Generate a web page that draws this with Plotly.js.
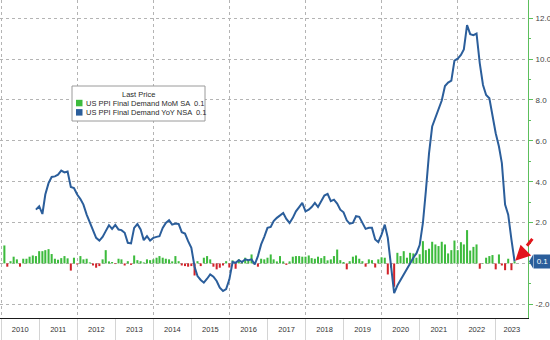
<!DOCTYPE html>
<html><head><meta charset="utf-8">
<script src="https://cdn.plot.ly/plotly-3.0.1.min.js"></script>
<style>html,body{margin:0;padding:0;background:#fff}#chart{width:550px;height:340px}</style>
</head><body><div id="chart"></div>
<script>
// ---- Data ----
const momName = 'US PPI Final Demand MoM SA';
const yoyName = 'US PPI Final Demand YoY NSA';
const legendTitle = 'Last Price';
const momLast = '0.1';
const yoyLast = '0.1';

// MoM SA (%), monthly from Jan 2010
const momStartYear = 2010, momStartMonth = 1;
const mom2010 = [0.88, -0.16, 0.11, 0.33, 0.2, -0.16, 0.23, 0.23, 0.33, 0.39, 0.36, 0.6];
const mom2011 = [0.6, 0.65, 0.7, 0.46, 0.23, 0.18, 0.26, 0.36, 0.25, -0.35, 0.28, -0.05];
const mom2012 = [0.36, 0.2, 0.23, 0.05, -0.1, -0.21, -0.13, 0.2, 0.65, 0.1, 0.07, -0.03];
const mom2013 = [0.23, 0.2, -0.1, 0.11, -0.07, 0.39, 0.16, 0.11, 0.05, 0.2, 0.16, 0.2];
const mom2014 = [0.28, 0.36, 0.28, 0.23, 0.2, 0.1, 0.36, 0.11, -0.1, -0.13, -0.16, -0.13];
const mom2015 = [-0.59, 0.11, -0.13, 0.28, 0.36, 0.2, -0.16, -0.29, -0.21, -0.1, 0.11, -0.2];
const mom2016 = [0.15, -0.26, 0.2, 0.1, 0.28, 0.15, 0.44, 0.05, -0.16, 0.23, 0.2, 0.28];
const mom2017 = [0.44, 0.2, 0.1, 0.36, 0.1, -0.07, 0.1, 0.33, 0.36, 0.36, 0.33, 0.33];
const mom2018 = [0.39, 0.26, 0.23, 0.33, 0.26, 0.36, 0.15, 0.2, 0.36, 0.68, 0.16, 0.07];
const mom2019 = [-0.29, 0.11, 0.33, 0.39, 0.23, 0.11, -0.16, 0.2, 0.16, -0.2, 0.2, 0.3];
const mom2020 = [0.28, -0.54, -0.2, -1.14, 0.52, 0.36, 0.6, 0.28, 0.52, 0.49, 0.28, 0.45];
const mom2021 = [1.09, 0.65, 0.72, 1.06, 0.93, 0.85, 1.06, 0.93, 0.49, 0.65, 1.12, 0.65];
const mom2022 = [1.04, 0.93, 1.63, 0.63, 0.81, 0.93, -0.26, 0.02, 0.28, 0.36, 0.41, -0.29];
const mom2023 = [0.44, -0.1, -0.33, 0.23, -0.33, 0.1];

// YoY NSA (%), monthly from Nov 2010
const yoyStartYear = 2010, yoyStartMonth = 11;
const yoy2010 = [2.63, 2.8];
const yoy2011 = [2.42, 3.37, 3.93, 4.23, 4.26, 4.34, 4.54, 4.45, 4.5, 3.74, 3.69, 3.37];
const yoy2012 = [3.15, 2.88, 2.39, 1.98, 1.58, 1.25, 1.12, 1.3, 1.58, 1.87, 1.69, 1.89];
const yoy2013 = [1.66, 1.63, 1.5, 1.01, 0.98, 1.74, 1.93, 1.66, 1.14, 1.33, 1.12, 1.25];
const yoy2014 = [1.3, 1.33, 1.74, 1.98, 2.11, 1.9, 1.95, 1.93, 1.53, 1.46, 1.09, 0.76];
const yoy2015 = [-0.16, -0.62, -0.81, -0.94, -0.75, -0.54, -0.65, -0.86, -1.19, -1.35, -1.25, -0.78];
const yoy2016 = [0.07, 0.03, 0.16, 0.07, 0.2, 0.16, 0.2, -0.05, 0.36, 0.93, 1.3, 1.74];
const yoy2017 = [1.79, 2.07, 2.23, 2.34, 2.47, 2.18, 1.98, 2.23, 2.55, 2.76, 2.96, 2.55];
const yoy2018 = [2.63, 2.76, 2.96, 2.76, 3.04, 3.32, 3.4, 3.05, 3.12, 2.93, 2.63, 2.5];
const yoy2019 = [2.11, 1.95, 1.98, 2.31, 2.28, 1.98, 1.69, 1.74, 1.74, 1.17, 1.04, 1.41];
const yoy2020 = [1.9, 1.25, 0.0, -1.45, -1.08, -0.8, -0.54, -0.21, 0.0, 0.28, 0.49, 0.9];
const yoy2021 = [1.98, 3.53, 5.4, 6.7, 7.1, 7.5, 7.97, 8.68, 8.85, 8.94, 9.92, 10.02];
const yoy2022 = [10.2, 10.47, 11.66, 11.22, 11.17, 11.25, 9.79, 8.73, 8.24, 8.08, 7.19, 6.37];
const yoy2023 = [5.72, 4.91, 2.88, 2.39, 1.17, 0.1];

// Axis labels
const yearLabels = ['2010','2011','2012','2013','2014','2015','2016','2017','2018','2019','2020','2021','2022','2023'];
const gridYears = ['2010','2012','2014','2016','2018','2020','2022'];
const yTickVals = [-2, 0, 2, 4, 6, 8, 10, 12];
const yTickText = ['-2.0', '', '2.0', '4.0', '6.0', '8.0', '10.0', '12.0'];
const yMinorVals = [-1, 1, 3, 5, 7, 9, 11];
const xStart = '2009-12-20';
const xEnd = '2023-11-06';

// ---- Build ----
const momVals = [].concat(mom2010, mom2011, mom2012, mom2013, mom2014, mom2015, mom2016, mom2017, mom2018, mom2019, mom2020, mom2021, mom2022, mom2023);
const yoyVals = [].concat(yoy2010, yoy2011, yoy2012, yoy2013, yoy2014, yoy2015, yoy2016, yoy2017, yoy2018, yoy2019, yoy2020, yoy2021, yoy2022, yoy2023);

function pad(n){ return (n < 10 ? '0' : '') + n; }
function monthEnds(y, m, n) {
  const out = [];
  for (let k = 0; k < n; k++) {
    const d = new Date(Date.UTC(y, m - 1 + k + 1, 0));
    out.push(d.getUTCFullYear() + '-' + pad(d.getUTCMonth() + 1) + '-' + pad(d.getUTCDate()));
  }
  return out;
}
const momDates = monthEnds(momStartYear, momStartMonth, momVals.length);
const yoyDates = monthEnds(yoyStartYear, yoyStartMonth, yoyVals.length);

const GREEN = '#3dbb3d', RED = '#d2232a', BLUE = '#2b5e9b', AXGREEN = '#5cbf5c';
const momColors = momVals.map(v => v >= 0 ? GREEN : RED);

const yearStarts = yearLabels.map(y => y + '-01-01');
const endMs = Date.parse(xEnd);
const yearMids = yearLabels.map(y => {
  const a = Date.parse(y + '-01-01');
  const b = Math.min(Date.parse((+y + 1) + '-01-01'), endMs);
  return new Date((a + b) / 2).toISOString().slice(0, 10);
});
const gridDates = gridYears.map(y => y + '-01-01');

const FONT = 'Liberation Sans, Arial, sans-serif';

const traces = [
  { type: 'bar', x: momDates, y: momVals, marker: { color: momColors, line: { width: 0 } },
    name: momName, xaxis: 'x', yaxis: 'y', hoverinfo: 'skip', showlegend: false },
  { type: 'scatter', mode: 'lines', x: yoyDates, y: yoyVals, line: { color: BLUE, width: 2 },
    name: yoyName, xaxis: 'x2', yaxis: 'y', hoverinfo: 'skip', showlegend: false, cliponaxis: true }
];

const lastDate = yoyDates[yoyDates.length - 1];
const lastVal = yoyVals[yoyVals.length - 1];

const PW = 528, PH = 318;
const px = v => v / PW, py = v => (PH - v) / PH;

const layout = {
  width: 550, height: 340,
  margin: { l: 0, r: 22, t: 0, b: 22, pad: 0 },
  paper_bgcolor: '#ffffff', plot_bgcolor: '#ffffff',
  font: { family: FONT, size: 8, color: '#333' },
  bargap: 0.3,
  showlegend: false,
  xaxis: {
    type: 'date', range: [xStart, xEnd], tickmode: 'array', tickvals: yearMids, ticktext: yearLabels,
    ticks: '', showgrid: false, zeroline: false, showline: true, linecolor: '#1a1a1a', linewidth: 1,
    tickfont: { family: FONT, size: 7.5, color: '#333' }, ticklabelstandoff: 4,
    minor: { tickmode: 'array', tickvals: yearStarts, ticks: 'outside', ticklen: 22, tickwidth: 1, tickcolor: '#d4d4d4', showgrid: false },
    fixedrange: true
  },
  xaxis2: {
    type: 'date', range: [xStart, xEnd], overlaying: 'x', anchor: 'y', tickmode: 'array', tickvals: gridDates,
    showticklabels: false, ticks: '', showgrid: true, griddash: 'dot', gridcolor: '#b4b4b4', gridwidth: 1,
    zeroline: false, showline: false, fixedrange: true
  },
  yaxis: {
    side: 'right', range: [-2.67, 12.89], tickmode: 'array', tickvals: yTickVals, ticktext: yTickText,
    ticks: 'outside', ticklen: 4, tickwidth: 1, tickcolor: AXGREEN,
    showline: true, linecolor: AXGREEN, linewidth: 1, zeroline: false,
    showgrid: true, griddash: 'dot', gridcolor: '#b4b4b4', gridwidth: 1,
    tickfont: { family: FONT, size: 8, color: '#444' }, ticklabelstandoff: 1,
    minor: { tickmode: 'array', tickvals: yMinorVals, ticks: 'outside', ticklen: 2, tickcolor: AXGREEN, showgrid: false },
    fixedrange: true
  },
  shapes: [
    // legend box
    { type: 'rect', xref: 'paper', yref: 'paper', x0: px(72), x1: px(205), y0: py(121), y1: py(86),
      fillcolor: '#ffffff', line: { color: '#9a9a9a', width: 1 }, layer: 'above' },
    { type: 'rect', xref: 'paper', yref: 'paper', x0: px(76), x1: px(82.5), y0: py(106.3), y1: py(99.8),
      fillcolor: GREEN, line: { width: 0 }, layer: 'above' },
    { type: 'rect', xref: 'paper', yref: 'paper', x0: px(76), x1: px(82.5), y0: py(115.6), y1: py(109.1),
      fillcolor: BLUE, line: { width: 0 }, layer: 'above' },
    // pointer of last value tag
    { type: 'path', xref: 'paper', yref: 'y',
      path: 'M ' + px(529) + ',' + lastVal + ' L ' + px(533) + ',' + (lastVal + 0.33) + ' L ' + px(533) + ',' + (lastVal - 0.33) + ' Z',
      fillcolor: BLUE, line: { width: 0 }, layer: 'above' }
  ],
  annotations: [
    { xref: 'paper', yref: 'paper', x: px(138), y: py(94.5), text: legendTitle, showarrow: false,
      xanchor: 'center', yanchor: 'middle', font: { family: FONT, size: 7.5, color: '#2a2a2a' } },
    { xref: 'paper', yref: 'paper', x: px(84), y: py(103.2), text: momName + '  ' + momLast, showarrow: false,
      xanchor: 'left', yanchor: 'middle', font: { family: FONT, size: 7.5, color: '#2a2a2a' } },
    { xref: 'paper', yref: 'paper', x: px(84), y: py(112.5), text: yoyName + '  ' + yoyLast, showarrow: false,
      xanchor: 'left', yanchor: 'middle', font: { family: FONT, size: 7.5, color: '#2a2a2a' } },
    // last value tag
    { xref: 'paper', yref: 'y', x: px(533), y: lastVal, text: yoyLast, showarrow: false,
      xanchor: 'left', yanchor: 'middle', bgcolor: BLUE, borderpad: 2, width: 13, align: 'center',
      font: { family: FONT, size: 8, color: '#ffffff' } },
    // red arrow (head part)
    { xref: 'x', yref: 'y', x: lastDate, y: lastVal, text: '', showarrow: true, ax: 11, ay: -11,
      arrowhead: 2, arrowsize: 1, arrowwidth: 3, arrowcolor: '#e3151b', standoff: 1 },
    // red arrow (tail dash)
    { xref: 'x', yref: 'y', x: lastDate, y: lastVal, text: '', showarrow: true, ax: 19, ay: -24,
      arrowhead: 0, arrowwidth: 3, arrowcolor: '#e3151b', standoff: 20 }
  ]
};

Plotly.newPlot('chart', traces, layout, { staticPlot: true, displayModeBar: false });
</script>
</body></html>
